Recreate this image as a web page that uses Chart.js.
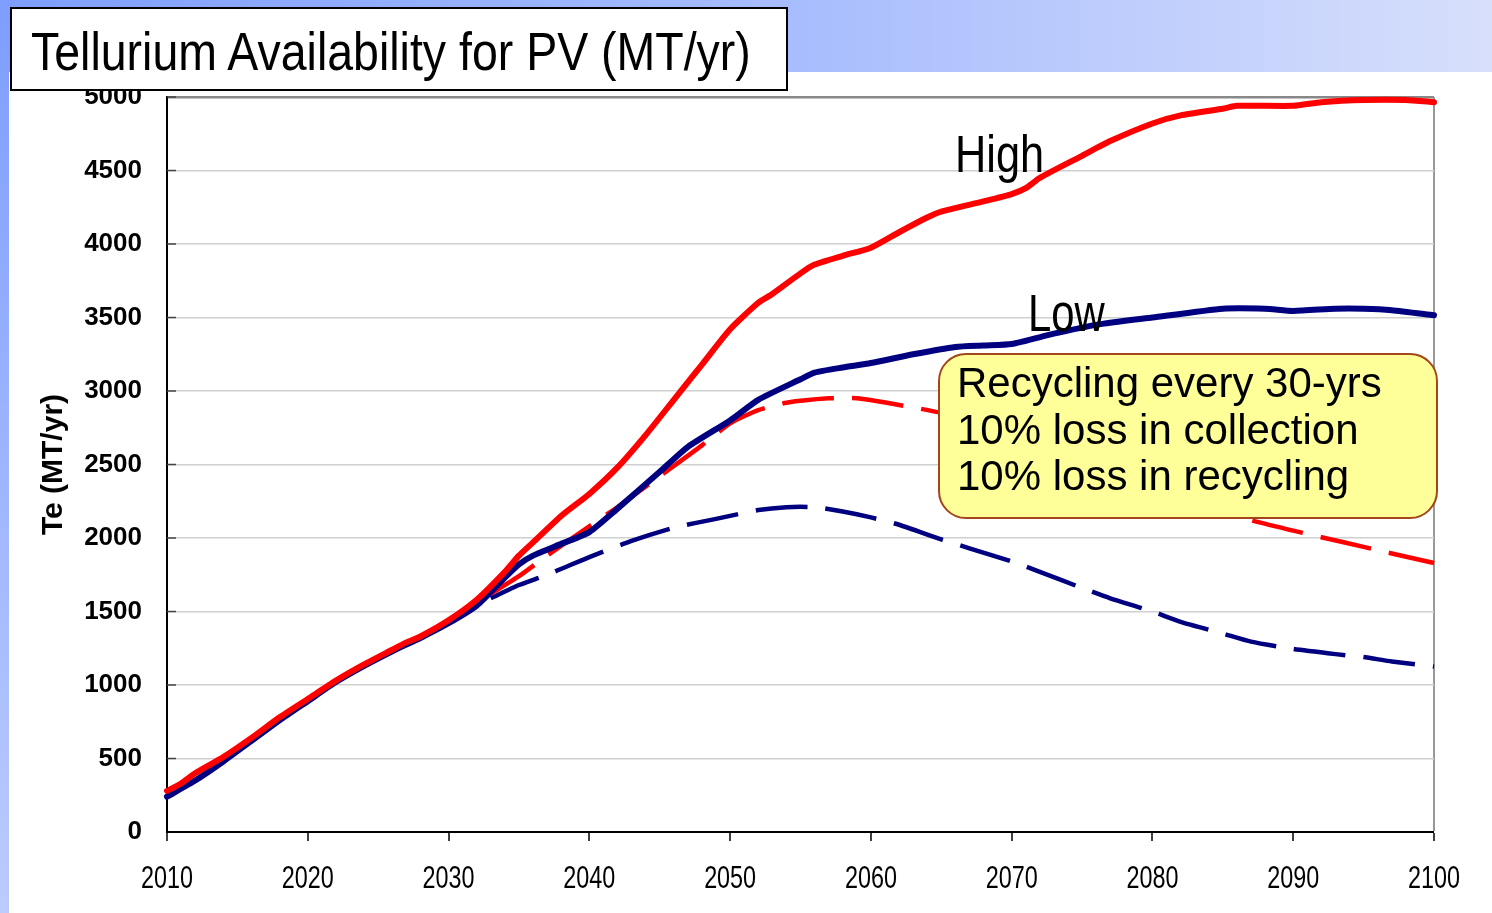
<!DOCTYPE html>
<html>
<head>
<meta charset="utf-8">
<script src="https://cdn.jsdelivr.net/npm/chart.js@4/dist/chart.umd.min.js"></script>
<style>
  html, body { margin:0; padding:0; width:1492px; height:913px; overflow:hidden; background:#fff; }
  #topband { position:absolute; left:0; top:0; width:1492px; height:72px;
    background: linear-gradient(90deg, #7d9eff 0%, #a9befd 55%, #d7dffb 100%); }
  #leftband { position:absolute; left:0; top:0; width:9px; height:913px;
    background: linear-gradient(180deg, #7d9eff 0%, #9db4ff 50%, #bccbff 100%); }
  #white { position:absolute; left:9px; top:72px; width:1483px; height:841px; background:#fff; }
  canvas { position:absolute; left:0; top:0; }
  .t { position:absolute; font-family:"Liberation Sans", Arial, sans-serif; color:#000; white-space:nowrap; transform-origin:0 0; }
  #titlebox { position:absolute; left:10px; top:7px; width:778px; height:84px; box-sizing:border-box;
    border:2px solid #000; background:#fff; }
  #title { left:31px; top:25px; font-size:53px; line-height:53px; transform:scaleX(0.877); }
  #high { left:955px; top:129px; font-size:51px; line-height:51px; transform:scaleX(0.85); }
  #low { left:1028px; top:288px; font-size:51px; line-height:51px; transform:scaleX(0.82); }
  #callout { position:absolute; left:938px; top:353px; width:500px; height:166px; box-sizing:border-box;
    border:2px solid #a3461a; border-radius:28px; background:#ffff99;
    padding:5px 0 0 17px; font-family:"Liberation Sans", Arial, sans-serif; font-size:42px; line-height:46.5px; color:#000; white-space:nowrap; }
</style>
</head>
<body>
<div id="topband"></div>
<div id="leftband"></div>
<div id="white"></div>
<canvas id="c" width="1492" height="913"></canvas>
<div id="titlebox"></div>
<div class="t" id="title">Tellurium Availability for PV (MT/yr)</div>
<div class="t" id="high">High</div>
<div class="t" id="low">Low</div>
<div id="callout">Recycling every 30-yrs<br>10% loss in collection<br>10% loss in recycling</div>
<script>
// ---- data ----
const xTickValues = [2010, 2020, 2030, 2040, 2050, 2060, 2070, 2080, 2090, 2100];
const yTickValues = [0, 500, 1000, 1500, 2000, 2500, 3000, 3500, 4000, 4500, 5000];

const highYears  = [2010,2011,2012,2014,2016,2018,2020,2022,2024,2026,2027,2028,2030,2032,2034,2035,2036,2038,2040,2042,2044,2046,2048,2050,2052,2053,2055,2056,2058,2060,2062,2064,2065,2068,2070,2071,2072,2075,2077,2080,2082,2085,2086,2090,2092,2095,2098,2100];
const highValues = [280,330,400,510,640,780,905,1030,1140,1240,1290,1330,1440,1580,1770,1880,1970,2150,2300,2480,2700,2940,3180,3420,3600,3660,3800,3860,3920,3975,4080,4180,4220,4290,4340,4380,4450,4600,4700,4820,4875,4920,4940,4940,4965,4980,4980,4965];

const lowYears  = [2010,2012,2014,2016,2018,2020,2022,2024,2026,2028,2030,2032,2034,2035,2036,2038,2040,2042,2045,2047,2050,2052,2055,2056,2058,2060,2063,2066,2068,2070,2073,2076,2080,2085,2088,2090,2093,2095,2097,2100];
const lowValues = [240,350,480,620,760,890,1020,1130,1230,1320,1420,1540,1730,1820,1880,1960,2040,2200,2450,2620,2800,2940,3080,3125,3160,3190,3250,3300,3310,3320,3390,3450,3500,3560,3560,3545,3560,3560,3550,3515];

const highRecYears  = [2033,2035,2037,2040,2042,2045,2048,2050,2052,2054,2057,2059,2062,2065,2070,2075,2080,2085,2087,2090,2092,2095,2097,2100];
const highRecValues = [1620,1740,1880,2080,2210,2420,2630,2780,2870,2920,2950,2950,2905,2850,2700,2520,2340,2180,2120,2050,2005,1940,1895,1830];

const lowRecYears  = [2033,2035,2037,2040,2043,2046,2049,2052,2054,2056,2058,2060,2062,2065,2067,2070,2072,2075,2077,2080,2082,2085,2087,2090,2093,2095,2097,2100];
const lowRecValues = [1590,1680,1750,1870,1980,2070,2130,2190,2210,2210,2180,2140,2090,1990,1930,1840,1770,1660,1590,1500,1430,1350,1295,1245,1210,1190,1160,1125];

const pts = (xs, ys) => xs.map((x, i) => ({ x: x, y: ys[i] }));

const axisExtras = {
  id: 'axisExtras',
  afterDraw(chart) {
    const ctx = chart.ctx, xs = chart.scales.x, ys = chart.scales.y, left = chart.chartArea.left;
    ctx.save();
    // short inner tick marks on the value axis
    ctx.strokeStyle = '#444';
    ctx.lineWidth = 1.5;
    yTickValues.forEach(v => {
      if (v === 0) return;
      const py = ys.getPixelForValue(v);
      ctx.beginPath(); ctx.moveTo(left, py); ctx.lineTo(left + 9, py); ctx.stroke();
    });
    // condensed year labels, placed through the x scale
    ctx.fillStyle = '#000';
    ctx.font = '32px "Liberation Sans", Arial, sans-serif';
    ctx.textAlign = 'center';
    ctx.textBaseline = 'middle';
    xs.ticks.forEach(t => {
      const px = xs.getPixelForValue(t.value);
      ctx.save();
      ctx.translate(px, 879);
      ctx.scale(0.73, 1);
      ctx.fillText(String(t.value), 0, 0);
      ctx.restore();
    });
    ctx.restore();
  }
};

new Chart(document.getElementById('c'), {
  type: 'line',
  data: {
    datasets: [
      { label: 'High', data: pts(highYears, highValues), borderColor: '#ff0000', borderWidth: 6, tension: 0.2, borderJoinStyle: 'round', borderCapStyle: 'round' },
      { label: 'Low', data: pts(lowYears, lowValues), borderColor: '#000080', borderWidth: 6, tension: 0.2, borderJoinStyle: 'round', borderCapStyle: 'round' },
      { label: 'High (recycling)', data: pts(highRecYears, highRecValues), borderColor: '#ff0000', borderWidth: 4.5, borderDash: [52, 18], tension: 0.2 },
      { label: 'Low (recycling)', data: pts(lowRecYears, lowRecValues), borderColor: '#000080', borderWidth: 4.5, borderDash: [52, 18], tension: 0.2 }
    ]
  },
  options: {
    responsive: false,
    animation: false,
    devicePixelRatio: 1,
    clip: false,
    layout: { padding: { left: 0, right: 58, top: 97, bottom: 0 } },
    elements: { point: { radius: 0 } },
    plugins: { legend: { display: false }, tooltip: { enabled: false } },
    scales: {
      x: {
        type: 'linear', min: 2010, max: 2100,
        afterFit: s => { s.height = 81; },
        afterBuildTicks: s => { s.ticks = xTickValues.map(v => ({ value: v })); },
        ticks: { callback: v => String(v), color: 'rgba(0,0,0,0)', padding: 19, maxRotation: 0, autoSkip: false,
          font: { family: '"Liberation Sans", Arial, sans-serif', size: 22 } },
        grid: { drawOnChartArea: true, tickLength: 9, tickColor: '#000', tickWidth: 1.5,
          color: c => (c.tick && c.tick.value === 2100) ? '#999999' : 'rgba(0,0,0,0)',
          lineWidth: c => (c.tick && c.tick.value === 2100) ? 2 : 0 },
        border: { color: '#000', width: 2 }
      },
      y: {
        min: 0, max: 5000,
        afterFit: s => { s.width = 167; },
        afterBuildTicks: s => { s.ticks = yTickValues.map(v => ({ value: v })); },
        ticks: { callback: v => String(v), color: '#000', padding: 25,
          font: { family: '"Liberation Sans", Arial, sans-serif', size: 26, weight: 'bold' } },
        grid: { drawTicks: false,
          color: c => (c.tick && c.tick.value === 5000) ? '#888888' : '#d0d0d0',
          lineWidth: c => (c.tick && c.tick.value === 5000) ? 2.5 : 1.5 },
        border: { color: '#000', width: 2 },
        title: { display: true, text: 'Te (MT/yr)', color: '#000', padding: { top: 36, bottom: 0 },
          font: { family: '"Liberation Sans", Arial, sans-serif', size: 30, weight: 'bold' } }
      }
    }
  },
  plugins: [axisExtras]
});
</script>
</body>
</html>
